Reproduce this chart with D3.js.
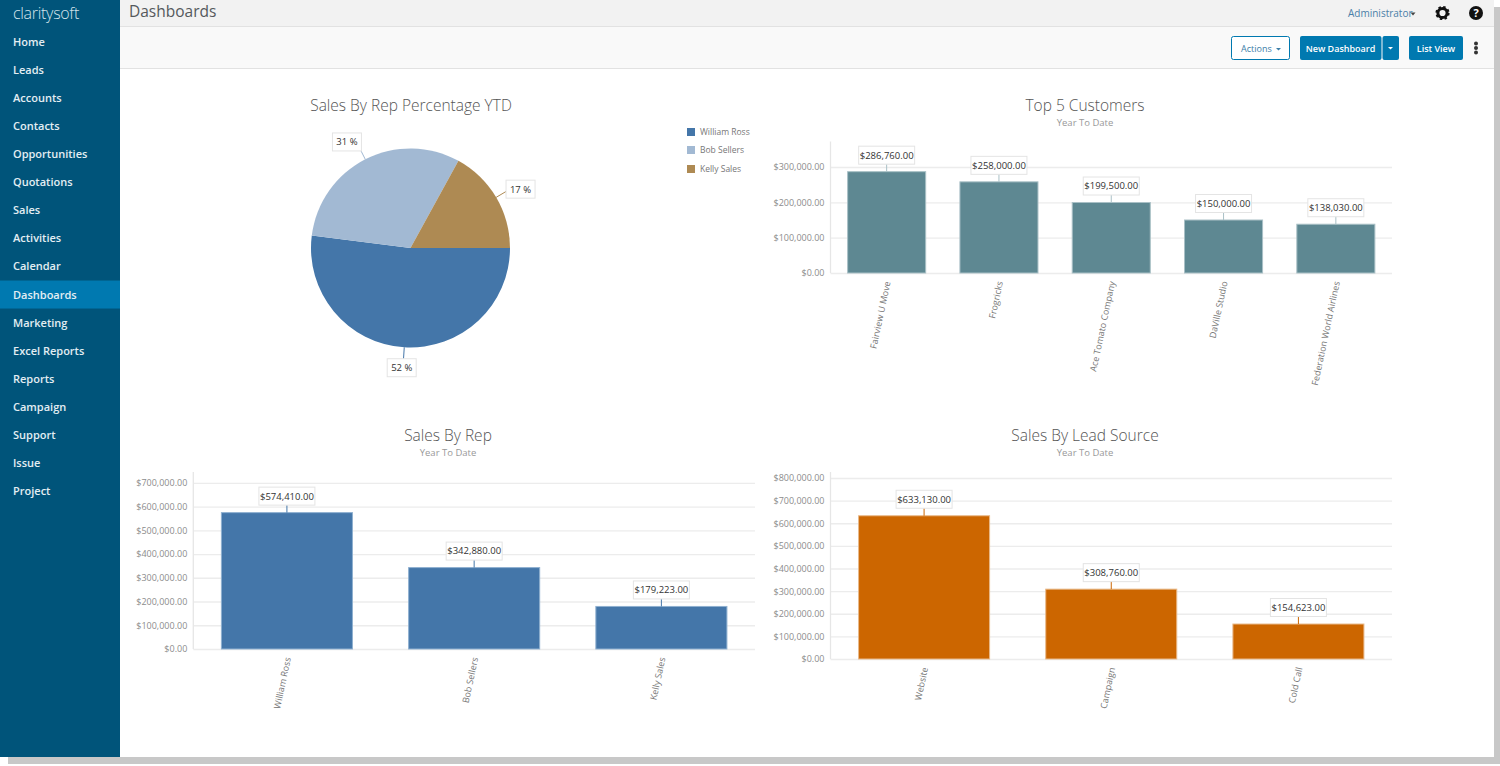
<!DOCTYPE html>
<html><head><meta charset="utf-8">
<script src="https://cdnjs.cloudflare.com/ajax/libs/d3/7.8.5/d3.min.js"></script>
<style>
html,body{margin:0;padding:0;background:#fff;overflow:hidden}
svg{display:block}
text{font-family:"Open Sans",sans-serif}
</style></head><body><svg id="c" width="1500" height="766"></svg>
<script>
const navItems=["Home","Leads","Accounts","Contacts","Opportunities","Quotations","Sales","Activities","Calendar","Dashboards","Marketing","Excel Reports","Reports","Campaign","Support","Issue","Project"];
const repNames=["William Ross","Bob Sellers","Kelly Sales"];
const repPercent=[52,31,17];
const repPieColors=["#4476a9","#a2b9d3","#ae8a53"];
const repSales=[574410,342880,179223];
const customerNames=["Fairview U Move","Frogricks","Ace Tomato Company","DaVille Studio","Federation World Airlines"];
const customerSales=[286760,258000,199500,150000,138030];
const sourceNames=["Website","Campaign","Cold Call"];
const sourceSales=[633130,308760,154623];

const svg=d3.select("#c");
function rect(g,x,y,w,h,f,extra){const r=g.append("rect").attr("x",x).attr("y",y).attr("width",w).attr("height",h).attr("fill",f);
  if(extra)Object.entries(extra).forEach(([k,v])=>r.attr(k,v));return r;}
function txt(g,x,y,s,size,fill,anchor,weight){return g.append("text").attr("x",x).attr("y",y).text(s)
  .attr("font-size",size).attr("fill",fill).attr("text-anchor",anchor||"start").attr("font-weight",weight||400);}

// window shadow
rect(svg,0,0,1500,766,"#fff");
rect(svg,8,757,1486,7,"#c8c8c8");
rect(svg,1494,7,6,757,"#c8c8c8");
// chrome
const app=svg.append("g");
rect(app,120,0,1374,27,"#f2f2f2");
rect(app,120,26,1374,1,"#e2e2e2");
rect(app,120,27,1374,41,"#f9f9f9");
rect(app,120,68,1374,1,"#e2e2e2");
rect(app,0,0,120,757,"#00547a");
txt(app,13,19,"claritysoft",16,"#d5e4ec","start",300).attr("letter-spacing",-0.3);
navItems.forEach((n,i)=>{
  const cy=42+i*28.06;
  if(n==="Dashboards")rect(app,0,cy-14,120,28,"#0079b0");
  txt(app,13,cy+4,n,11,"#e3eef3","start",600);
});
txt(app,129,17,"Dashboards",15.5,"#55595c");
txt(app,1348,16.5,"Administrator",10,"#4a7fa8");
app.append("path").attr("d","M1410.5 12.5h5l-2.5 3z").attr("fill","#444");
// gear
const gear=app.append("g").attr("transform","translate(1442.5,13)");
gear.append("circle").attr("r",4.6).attr("fill","none").attr("stroke","#111").attr("stroke-width",3);
gear.append("circle").attr("r",6).attr("fill","none").attr("stroke","#111").attr("stroke-width",2.2).attr("stroke-dasharray","2.4 2.31");
// help
const help=app.append("g").attr("transform","translate(1476,13)");
help.append("circle").attr("r",7).attr("fill","#111");
txt(help,0,4,"?",11,"#fff","middle",700);
// buttons
rect(app,1231.5,36.5,58,23,"#fff",{stroke:"#0079b0",rx:2});
txt(app,1241,51.5,"Actions",9,"#3c7ea8");
app.append("path").attr("d","M1276 48h5l-2.5 2.5z").attr("fill","#3c7ea8");
rect(app,1300,36,81.5,24,"#0079b0",{rx:2});
txt(app,1340.5,51.5,"New Dashboard",9,"#fff","middle",600);
rect(app,1382.5,36,16.5,24,"#0079b0",{rx:2});
app.append("path").attr("d","M1388 47h5l-2.5 2.5z").attr("fill","#fff");
rect(app,1409,36,54,24,"#0079b0",{rx:2});
txt(app,1436,51.5,"List View",9,"#fff","middle",600);
[43.5,48,52.5].forEach(y=>app.append("circle").attr("cx",1476).attr("cy",y).attr("r",2).attr("fill","#333"));

function labelBox(g,cx,cy,s,w,h){
  rect(g,cx-w/2,cy-h/2,w,h,"#fff",{stroke:"#e4e4e4","stroke-width":1});
  txt(g,cx,cy+3.4,s,9.5,"#333","middle");
}
const money=d3.format("$,.2f");

// Pie
const pieG=svg.append("g").attr("transform","translate(410.5,248)");
txt(svg,411,110.5,"Sales By Rep Percentage YTD",15.5,"#555","middle",300);
const R=99.5;
const pie=d3.pie().sort(null).startAngle(Math.PI/2).endAngle(Math.PI*2.5);
const arc=d3.arc().innerRadius(0).outerRadius(R);
const arcs=pie(repPercent);
pieG.selectAll("path.s").data(arcs).join("path").attr("class","s").attr("d",arc).attr("fill",(d,i)=>repPieColors[i]);
const clamp=v=>Math.max(-1,Math.min(1,v));
arcs.forEach((d,i)=>{
  const a=(d.startAngle+d.endAngle)/2-Math.PI/2, c=Math.cos(a), s=Math.sin(a);
  const w=29,h=18,ex=111*c,ey=111*s;
  pieG.append("line").attr("x1",R*c).attr("y1",R*s).attr("x2",ex).attr("y2",ey).attr("stroke",repPieColors[i]).attr("stroke-width",1);
  labelBox(pieG,ex+clamp(c*2)*w/2,ey+Math.sign(s)*s*s*h/2,repPercent[i]+" %",w,h);
});
// Legend
const legend=svg.append("g");
repNames.forEach((n,i)=>{
  const y=[132,150,169][i];
  rect(legend,687,y-4,8,8,repPieColors[i]);
  txt(legend,700,y+3,n,8.5,"#777");
});

function barChart(o){
  const g=svg.append("g");
  txt(g,o.titleX,o.titleY,o.title,15.5,"#555","middle",300);
  txt(g,o.titleX,o.titleY+15.5,"Year To Date",9.5,"#999","middle");
  const x=d3.scaleBand().domain(o.names).range([o.x0,o.x1]).paddingInner(o.pad).paddingOuter(o.pad/2);
  const y=d3.scaleLinear().domain([0,o.maxTick]).range([o.y0,o.yMax]);
  const w=o.x1-o.x0;
  const ax=g.append("g").attr("transform",`translate(${o.x0},0)`)
    .call(d3.axisLeft(y).tickValues(d3.range(0,o.maxTick+1,100000)).tickFormat(money).tickSize(-w).tickPadding(6));
  ax.select(".domain").remove();
  ax.selectAll("line").attr("stroke","#ececec").attr("stroke-width",1.3);
  ax.selectAll("text").attr("font-size",9).attr("fill","#8c8c8c").attr("font-family",'"Open Sans",sans-serif');
  g.append("line").attr("x1",o.x0).attr("x2",o.x0).attr("y1",o.top).attr("y2",o.y0).attr("stroke","#e6e6e6").attr("stroke-width",1.3);
  g.selectAll("rect.bar").data(o.values).join("rect").attr("class","bar")
    .attr("x",(d,i)=>x(o.names[i])).attr("width",x.bandwidth())
    .attr("y",d=>y(d)).attr("height",d=>o.y0-y(d))
    .attr("fill",o.color).attr("stroke",o.stroke).attr("stroke-width",1);
  o.values.forEach((v,i)=>{
    const cx=x(o.names[i])+x.bandwidth()/2, t=y(v);
    g.append("line").attr("x1",cx).attr("x2",cx).attr("y1",t).attr("y2",t-10).attr("stroke",o.lead).attr("stroke-width",1);
    labelBox(g,cx,t-16.5,money(v),56,18);
    g.append("text").attr("transform",`translate(${cx+4},${o.y0+9}) rotate(-78)`)
      .attr("text-anchor","end").attr("font-size",9).attr("fill","#777").text(o.names[i]);
  });
}
barChart({title:"Top 5 Customers",titleX:1085,titleY:110.5,names:customerNames,values:customerSales,x0:830.5,x1:1392,y0:273,yMax:167,maxTick:300000,top:141.5,pad:0.305,color:"#5e8892",stroke:"#a9c0c6",lead:"#a9c0c6"});
barChart({title:"Sales By Rep",titleX:448,titleY:440.5,names:repNames,values:repSales,x0:193.3,x1:755,y0:649,yMax:482.8,maxTick:700000,top:472,pad:0.3,color:"#4476a9",stroke:"#8fb0d0",lead:"#4476a9"});
barChart({title:"Sales By Lead Source",titleX:1085,titleY:440.5,names:sourceNames,values:sourceSales,x0:830.5,x1:1392,y0:659,yMax:478,maxTick:800000,top:472,pad:0.3,color:"#cc6600",stroke:"#e8b98a",lead:"#cc6600"});
</script></body></html>
